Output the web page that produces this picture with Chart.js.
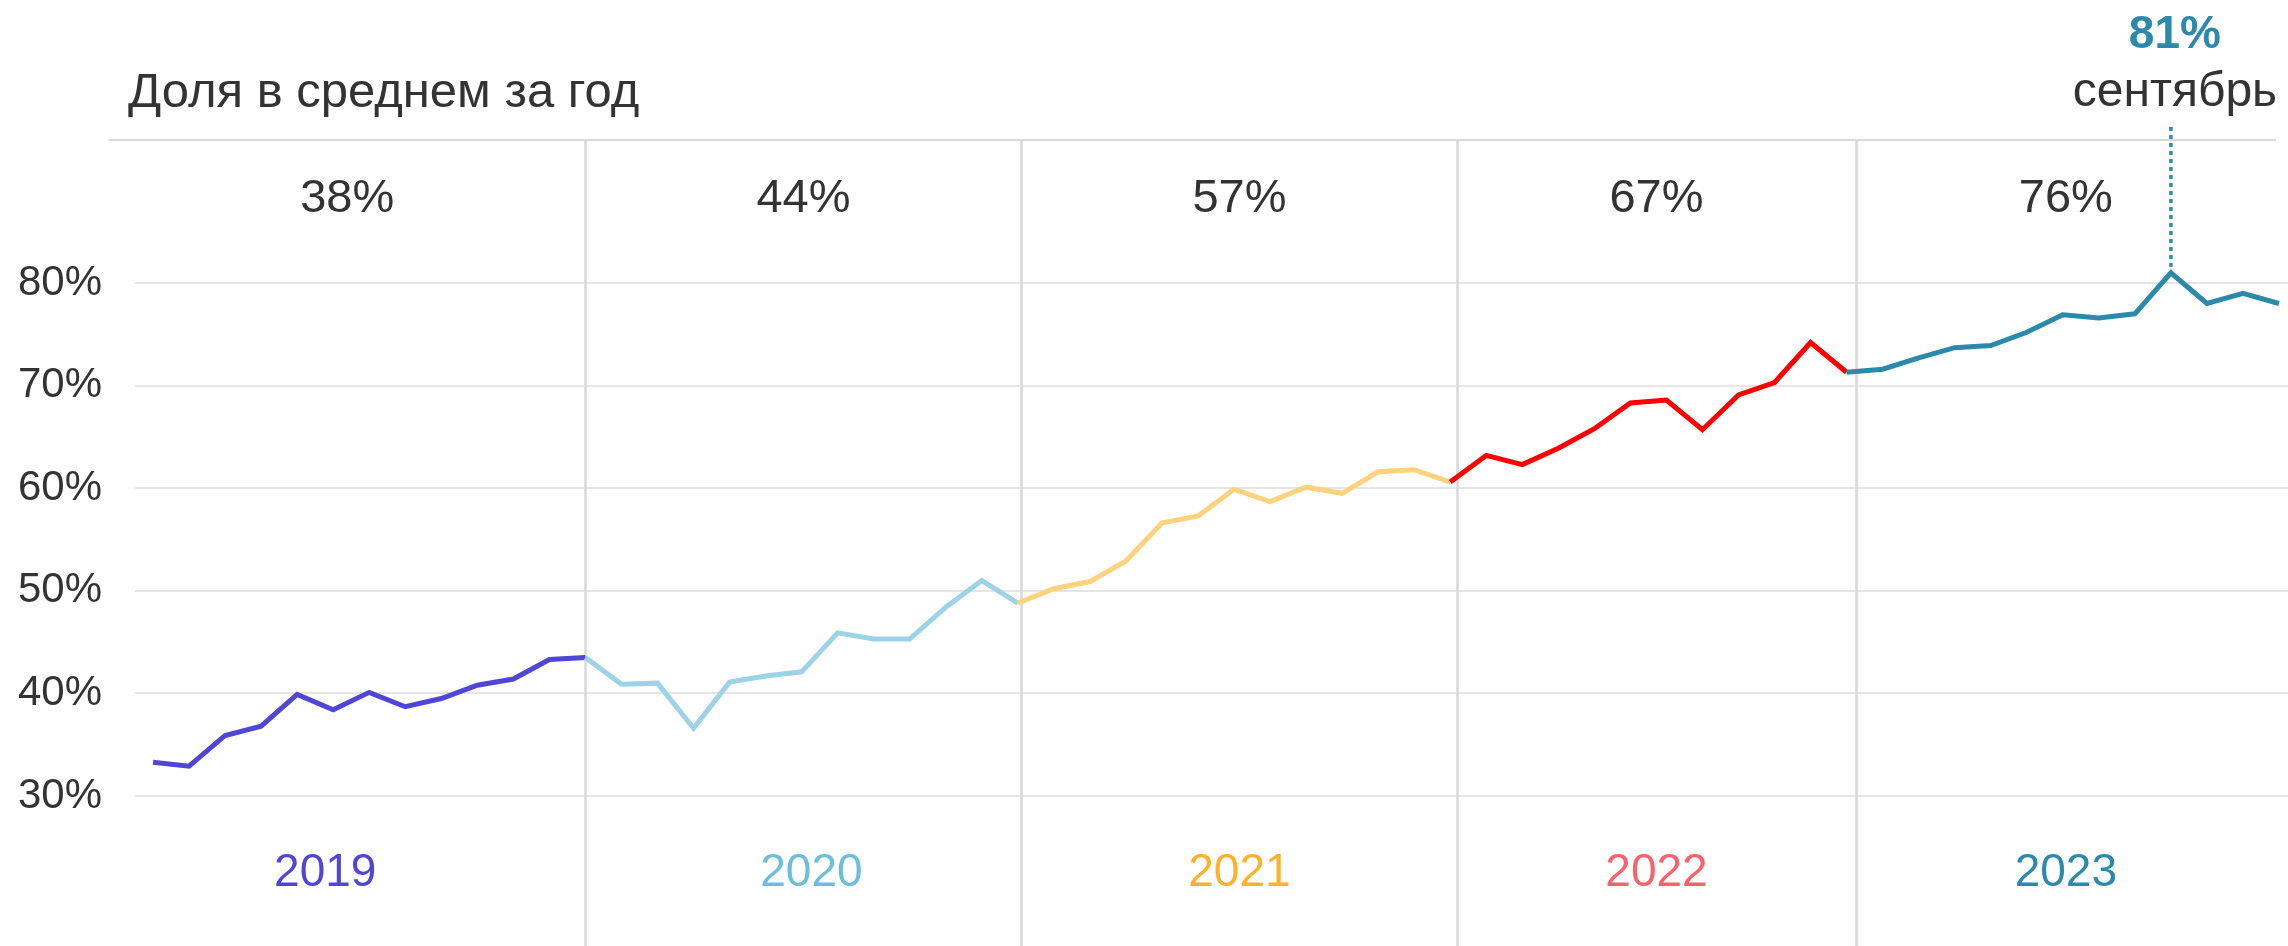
<!DOCTYPE html>
<html lang="ru">
<head>
<meta charset="utf-8">
<title>Доля в среднем за год</title>
<script src="https://cdn.jsdelivr.net/npm/chart.js@4.4.1/dist/chart.umd.min.js"></script>
<style>
  html, body { margin: 0; padding: 0; background: #ffffff; }
  #chart { display: block; }
</style>
</head>
<body>
<canvas id="chart" width="2288" height="946"></canvas>
<script>
// Данные: месячные значения с января 2019 по декабрь 2023
const years = ['2019', '2020', '2021', '2022', '2023'];
const yearAverage = [38, 44, 57, 67, 76];
// индекс месяца, с которого начинается отрезок года
const yearStartIndex = [0, 12, 24, 36, 47];

const share2019 = [33.3, 32.9, 35.9, 36.8, 39.9, 38.4, 40.1, 38.7, 39.5, 40.8, 41.4, 43.3];
const share2020 = [43.5, 40.9, 41.0, 36.6, 41.1, 41.7, 42.1, 45.9, 45.3, 45.3, 48.4, 51.0];
const share2021 = [48.8, 50.2, 50.9, 52.9, 56.6, 57.3, 59.9, 58.7, 60.1, 59.5, 61.6, 61.8];
const share2022 = [60.6, 63.2, 62.3, 63.9, 65.8, 68.3, 68.6, 65.7, 69.1, 70.3, 74.2];
const share2023 = [71.3, 71.6, 72.7, 73.7, 73.9, 75.2, 76.9, 76.6, 77.0, 81.0, 78.0, 79.0, 78.0];

const yTicks = [30, 40, 50, 60, 70, 80];

const peakIndex = 56;
const peakValue = '81%';
const peakMonth = 'сентябрь';

const titleText = 'Доля в среднем за год';

// Стили
const FONT = '"Liberation Sans", Arial, Helvetica, sans-serif';
const TEXT = '#333333';
const LINE_GRAY = '#d9d9d9';
const lineColors = ['#5046d6', '#9dd3e6', '#ffd27d', '#ff0000', '#2b8aab'];
const labelColors = ['#5046d6', '#6bbfdc', '#ffb12a', '#f9626b', '#2b8aab'];

const share = [].concat(share2019, share2020, share2021, share2022, share2023);
const points = share.map((v, i) => ({ x: i, y: v }));

function yearOfIndex(i) {
  let k = 0;
  for (let j = 0; j < yearStartIndex.length; j++) {
    if (i >= yearStartIndex[j]) k = j;
  }
  return k;
}

// Разделители, подписи и заголовок
const decorations = {
  id: 'decorations',
  beforeDatasetsDraw(chart) {
    const { ctx, chartArea, scales: { x } } = chart;
    const topY = 140;
    const lineLeft = chartArea.left - 26;
    const lineRight = x.getPixelForValue(share.length - 1) - 3;
    // разделители стоят чуть правее первой точки года
    const dividerAt = [12, 24.1, 36.2, 47.25];
    const dividers = dividerAt.map(v => x.getPixelForValue(v));

    ctx.save();
    ctx.strokeStyle = LINE_GRAY;
    ctx.lineWidth = 2;
    ctx.beginPath();
    ctx.moveTo(lineLeft, topY);
    ctx.lineTo(lineRight, topY);
    ctx.stroke();

    ctx.lineWidth = 2.5;
    dividers.forEach(d => {
      const px = Math.round(d) + 0.5;
      ctx.beginPath();
      ctx.moveTo(px, topY);
      ctx.lineTo(px, chart.height);
      ctx.stroke();
    });

    const bounds = [lineLeft].concat(dividers, [lineRight]);
    const yearShift = [-22, 8, 0, 0, 0];

    ctx.textAlign = 'center';
    ctx.textBaseline = 'alphabetic';
    years.forEach((yr, k) => {
      const cx = (bounds[k] + bounds[k + 1]) / 2;
      ctx.font = '47px ' + FONT;
      ctx.fillStyle = TEXT;
      ctx.fillText(yearAverage[k] + '%', cx, 212);
      ctx.font = '46px ' + FONT;
      ctx.fillStyle = labelColors[k];
      ctx.fillText(yr, cx + yearShift[k], 886);
    });

    ctx.textAlign = 'left';
    ctx.fillStyle = TEXT;
    ctx.font = '49px ' + FONT;
    ctx.fillText(titleText, 128, 107);
    ctx.restore();
  },
  afterDatasetsDraw(chart) {
    const { ctx, scales: { x, y } } = chart;
    const px = x.getPixelForValue(peakIndex);
    const py = y.getPixelForValue(share[peakIndex]);
    ctx.save();
    ctx.strokeStyle = lineColors[4];
    ctx.lineWidth = 3.5;
    ctx.setLineDash([4, 4]);
    ctx.beginPath();
    ctx.moveTo(px, 127);
    ctx.lineTo(px, py - 6);
    ctx.stroke();
    ctx.setLineDash([]);

    ctx.textAlign = 'center';
    ctx.textBaseline = 'alphabetic';
    ctx.fillStyle = lineColors[4];
    ctx.font = 'bold 46px ' + FONT;
    ctx.fillText(peakValue, px + 4, 48);
    ctx.fillStyle = TEXT;
    ctx.font = '48px ' + FONT;
    ctx.fillText(peakMonth, px + 4, 106);
    ctx.restore();
  }
};

new Chart(document.getElementById('chart'), {
  type: 'line',
  data: {
    datasets: [{
      data: points,
      borderWidth: 5,
      pointRadius: 0,
      tension: 0,
      clip: false,
      borderJoinStyle: 'miter',
      segment: {
        borderColor: c => lineColors[yearOfIndex(c.p0DataIndex)]
      }
    }]
  },
  options: {
    responsive: false,
    animation: false,
    devicePixelRatio: 1,
    layout: { padding: { top: 283, bottom: 150, left: 0, right: 0 } },
    plugins: { legend: { display: false }, tooltip: { enabled: false } },
    scales: {
      x: {
        type: 'linear',
        display: false,
        min: -0.5,
        max: share.length - 0.75
      },
      y: {
        min: yTicks[0],
        max: yTicks[yTicks.length - 1],
        afterFit(scale) { scale.width = 135; },
        afterBuildTicks(scale) { scale.ticks = yTicks.map(v => ({ value: v })); },
        border: { display: false },
        grid: { color: '#e6e6e6', lineWidth: 2, drawTicks: false },
        ticks: {
          padding: 33,
          color: TEXT,
          font: { family: FONT, size: 42 },
          callback: v => v + '%'
        }
      }
    }
  },
  plugins: [decorations]
});
</script>
</body>
</html>
